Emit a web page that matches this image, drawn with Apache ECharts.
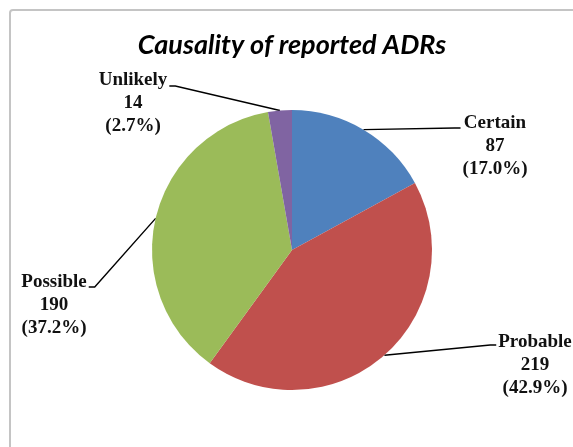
<!DOCTYPE html>
<html>
<head>
<meta charset="utf-8">
<script src="https://cdn.jsdelivr.net/npm/echarts@6/dist/echarts.min.js"></script>
<style>
  html, body { margin: 0; padding: 0; background: #ffffff; }
  #chart { width: 573px; height: 447px; }
</style>
</head>
<body>
<div id="chart"></div>
<script>
// Causality categories of the reported ADRs, clockwise from 12 o'clock
const categories = ['Certain', 'Probable', 'Possible', 'Unlikely'];
const counts = [87, 219, 190, 14];
const percentLabels = ['17.0', '42.9', '37.2', '2.7'];
const sliceColors = ['#4F81BD', '#C0504D', '#9BBB59', '#8064A2'];

// Where each label block sits: centre x of the block, centre y of its first line,
// the side the leader line meets, and the small drop of the line below the name
const labelSpots = {
  Certain:  { cx: 495, cy: 123, side: 'left',  dy: 5 },
  Probable: { cx: 535, cy: 342, side: 'left',  dy: 3 },
  Possible: { cx: 54,  cy: 282, side: 'right', dy: 5 },
  Unlikely: { cx: 133, cy: 80,  side: 'right', dy: 6 }
};
const LINE_H = 23;

const chart = echarts.init(document.getElementById('chart'), null, { renderer: 'canvas' });

const pieData = categories.map(function (name, i) {
  return { name: name, value: counts[i], itemStyle: { color: sliceColors[i] } };
});

chart.setOption({
  backgroundColor: '#ffffff',
  animation: false,
  graphic: [
    {
      type: 'rect',
      shape: { x: 10, y: 10, width: 620, height: 500, r: 3 },
      style: { fill: 'none', stroke: '#c4c4c4', lineWidth: 2 },
      silent: true,
      z: 0
    },
    {
      type: 'text',
      x: 292,
      y: 45,
      style: {
        text: 'Causality of reported ADRs',
        font: 'italic bold 27px Lato, "Open Sans", sans-serif',
        fill: '#000000',
        textAlign: 'center',
        textVerticalAlign: 'middle'
      },
      silent: true,
      z: 10
    }
  ],
  series: [
    {
      type: 'pie',
      center: [292, 250],
      radius: 140,
      startAngle: 90,
      clockwise: true,
      data: pieData,
      itemStyle: { borderWidth: 0 },
      emphasis: { disabled: true },
      label: {
        show: true,
        position: 'outside',
        formatter: function (p) {
          return p.name + '\n' + p.value + '\n(' + percentLabels[p.dataIndex] + '%)';
        },
        fontFamily: '"Liberation Serif", "DejaVu Serif", serif',
        fontWeight: 'bold',
        fontSize: 19,
        lineHeight: LINE_H,
        color: '#111111',
        align: 'center'
      },
      labelLine: {
        show: true,
        length: 10,
        length2: 6,
        smooth: false,
        lineStyle: { color: '#000000', width: 1.4 }
      },
      labelLayout: function (params) {
        const spot = labelSpots[categories[params.dataIndex]];
        const w = params.labelRect.width;
        const out = {
          x: spot.cx,
          y: spot.cy - LINE_H / 2,
          align: 'center',
          verticalAlign: 'top'
        };
        const pts = params.labelLinePoints;
        if (pts && pts.length) {
          const endX = spot.side === 'left' ? spot.cx - w / 2 - 2 : spot.cx + w / 2 + 2;
          const endY = spot.cy + spot.dy;
          const bendX = spot.side === 'left' ? endX - 6 : endX + 6;
          out.labelLinePoints = [pts[0], [bendX, endY], [endX, endY]];
        }
        return out;
      }
    }
  ]
});
</script>
</body>
</html>
